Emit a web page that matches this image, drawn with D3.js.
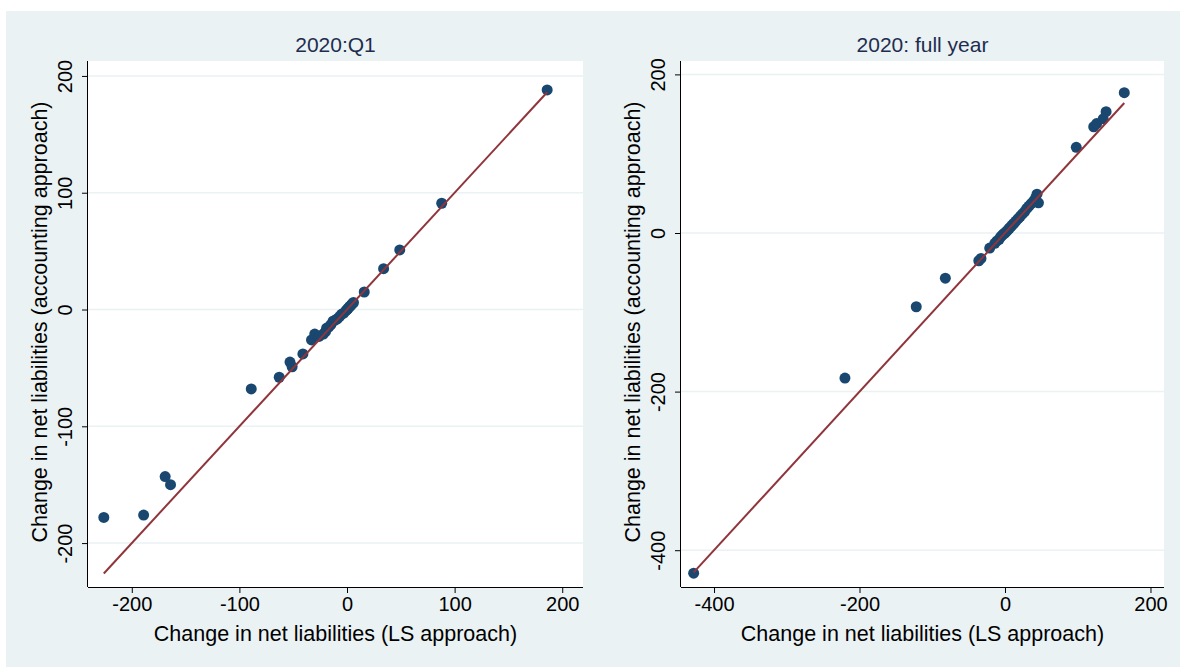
<!DOCTYPE html>
<html>
<head>
<meta charset="utf-8">
<script src="https://cdn.jsdelivr.net/npm/d3@7"></script>
<style>
  html, body { margin: 0; padding: 0; background: #ffffff; }
  svg { display: block; }
  text { font-family: "Liberation Sans", Arial, sans-serif; }
</style>
</head>
<body>
<svg id="chart" width="1180" height="667"></svg>
<script>
// ---- Data ----
const panelTitles = ["2020:Q1", "2020: full year"];
const xAxisTitle = "Change in net liabilities (LS approach)";
const yAxisTitle = "Change in net liabilities (accounting approach)";

const q1LS   = [-226, -189, -169, -164, -89, -63, -53, -51, -41, -33, -30, -26, -22, -20, -19, -17, -15, -13, -11, -9, -7, -5, -3, -1, 0, 1, 2, 3, 4, 5, 6, 16, 34, 49, 88, 186];
const q1Acc  = [-178, -176, -143, -150, -68, -58, -45, -49, -38, -26, -21, -23, -21, -19, -16, -15, -13, -10, -9, -8, -6, -4, -3, -1, 0, 1, 2, 3, 4, 5, 6, 15, 35, 51, 91, 188];

const fyLS   = [-428, -220, -122, -82, -36, -33, -21, -14, -11, -8, -6, -4, -2, 0, 2, 4, 6, 8, 10, 12, 15, 18, 21, 24, 27, 30, 33, 36, 39, 42, 44, 46, 98, 122, 126, 135, 139, 164];
const fyAcc  = [-429, -183, -93, -57, -35, -32, -19, -13, -10, -8, -5, -3, -1, 0, 2, 4, 6, 8, 10, 12, 15, 18, 21, 24, 27, 31, 34, 37, 40, 44, 49, 38, 108, 134, 138, 144, 153, 177];

const q1XTicks = [-200, -100, 0, 100, 200];
const q1YTicks = [-200, -100, 0, 100, 200];
const fyXTicks = [-400, -200, 0, 200];
const fyYTicks = [-400, -200, 0, 200];

// ---- Layout ----
const svg = d3.select("#chart");
svg.append("rect").attr("x", 6).attr("y", 11).attr("width", 1180 - 6).attr("height", 667 - 11).attr("fill", "#eaf2f3");

const panels = [
  { title: panelTitles[0], xs: q1LS, ys: q1Acc, xt: q1XTicks, yt: q1YTicks,
    left: 88, right: 583, top: 61, bottom: 587,
    xDom: [-240.7, 219.3], yDom: [-237.6, 212.8] },
  { title: panelTitles[1], xs: fyLS, ys: fyAcc, xt: fyXTicks, yt: fyYTicks,
    left: 681, right: 1164, top: 61, bottom: 587,
    xDom: [-445.4, 218.6], yDom: [-446.4, 216.9] }
];

const dotColor = "#1a476f";
const lineColor = "#90353b";
const gridColor = "#eaf2f3";
const textColor = "#000000";
const titleColor = "#1e2d4f";

panels.forEach(p => {
  const g = svg.append("g");
  const x = d3.scaleLinear().domain(p.xDom).range([p.left, p.right]);
  const y = d3.scaleLinear().domain(p.yDom).range([p.bottom, p.top]);

  g.append("rect").attr("x", p.left).attr("y", p.top)
    .attr("width", p.right - p.left).attr("height", p.bottom - p.top).attr("fill", "#ffffff");

  // gridlines
  g.selectAll("line.grid").data(p.yt).join("line")
    .attr("x1", p.left).attr("x2", p.right)
    .attr("y1", d => y(d)).attr("y2", d => y(d))
    .attr("stroke", gridColor).attr("stroke-width", 1.5);

  // axes
  const xAxis = d3.axisBottom(x).tickValues(p.xt).tickSize(6).tickPadding(4).tickFormat(d3.format("d"));
  const gx = g.append("g").attr("transform", `translate(0,${p.bottom})`).call(xAxis);
  gx.select(".domain").attr("d", `M${p.left},0.5H${p.right}`).attr("stroke", "#000");
  gx.selectAll(".tick line").attr("stroke", "#000");
  gx.selectAll(".tick text").attr("font-size", 20).attr("fill", textColor)
    .attr("font-family", "Liberation Sans, Arial, sans-serif").text(d => d < 0 ? "-" + Math.abs(d) : d);

  const yAxis = d3.axisLeft(y).tickValues(p.yt).tickSize(6).tickPadding(4);
  const gy = g.append("g").attr("transform", `translate(${p.left},0)`).call(yAxis);
  gy.select(".domain").attr("d", `M-0.5,${p.top}V${p.bottom}`).attr("stroke", "#000");
  gy.selectAll(".tick line").attr("stroke", "#000");
  gy.selectAll(".tick text").remove();
  gy.selectAll(".tick").append("text")
    .attr("transform", "translate(-16,0) rotate(-90)")
    .attr("text-anchor", "middle")
    .attr("font-size", 20).attr("fill", textColor)
    .attr("font-family", "Liberation Sans, Arial, sans-serif")
    .text(d => d < 0 ? "-" + Math.abs(d) : d);

  // points
  const pts = p.xs.map((v, i) => [v, p.ys[i]]);
  g.selectAll("circle").data(pts).join("circle")
    .attr("cx", d => x(d[0])).attr("cy", d => y(d[1])).attr("r", 5.5)
    .attr("fill", dotColor);

  // 45-degree reference line over the data's range (drawn on top)
  const ext = d3.extent(p.xs);
  const lineData = [[ext[0], ext[0]], [ext[1], ext[1]]];
  g.append("path").datum(lineData)
    .attr("d", d3.line().x(d => x(d[0])).y(d => y(d[1])))
    .attr("stroke", lineColor).attr("stroke-width", 2).attr("fill", "none");

  // titles
  g.append("text").attr("x", (p.left + p.right) / 2).attr("y", 52)
    .attr("text-anchor", "middle").attr("font-size", 21).attr("fill", titleColor)
    .text(p.title);
  g.append("text").attr("x", (p.left + p.right) / 2).attr("y", 641)
    .attr("text-anchor", "middle").attr("font-size", 21.5).attr("fill", textColor)
    .text(xAxisTitle);
  g.append("text")
    .attr("transform", `translate(${p.left - 41},${(p.top + p.bottom) / 2 - 2}) rotate(-90)`)
    .attr("text-anchor", "middle").attr("font-size", 21.5).attr("fill", textColor)
    .text(yAxisTitle);
});
</script>
</body>
</html>
